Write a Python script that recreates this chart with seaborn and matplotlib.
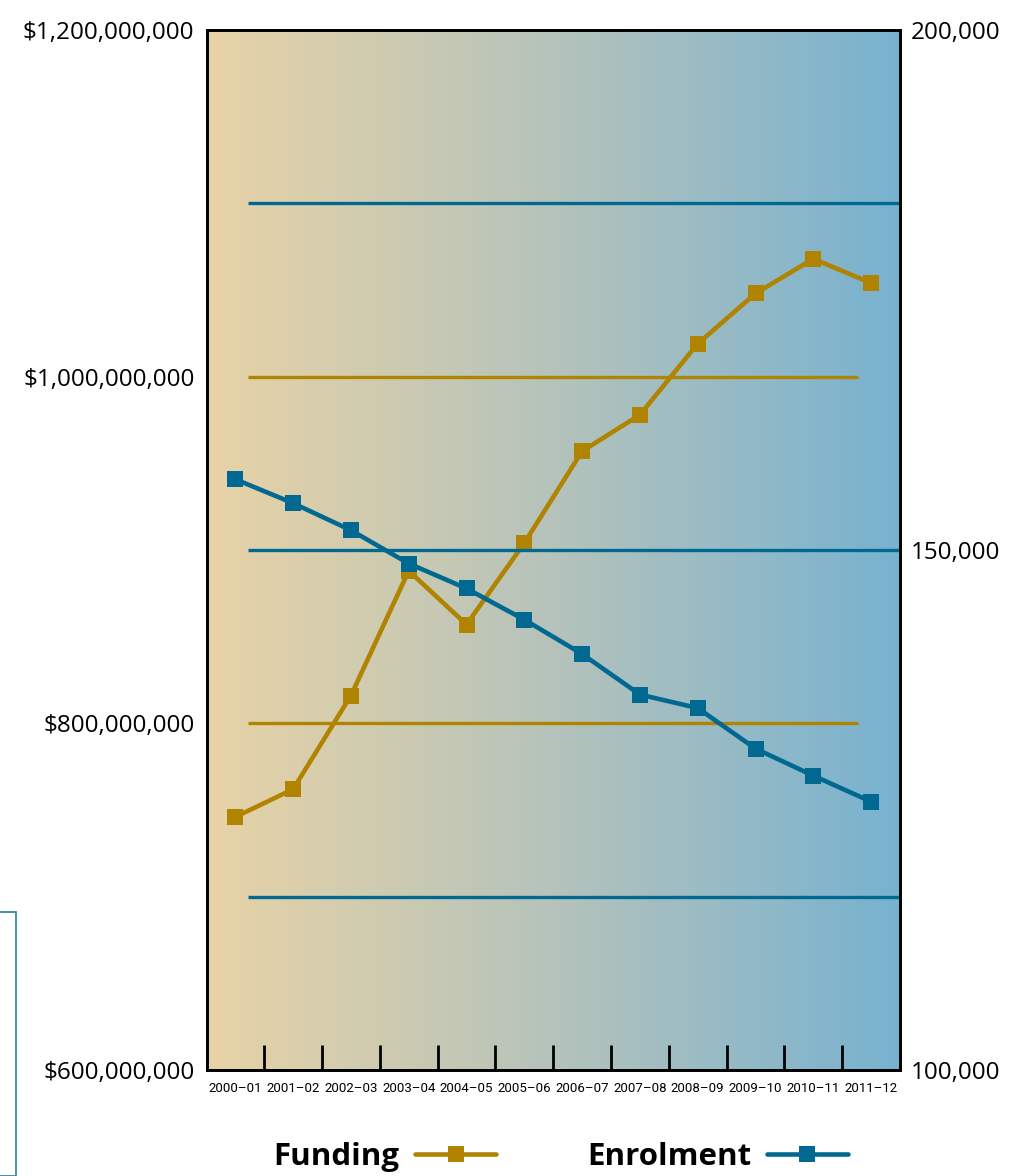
import numpy as np
import pandas as pd
import matplotlib
matplotlib.use("Agg")
import matplotlib.pyplot as plt
import seaborn as sns
from matplotlib.lines import Line2D
from matplotlib.patches import Rectangle
from matplotlib.colors import LinearSegmentedColormap

years = ["2000–01", "2001–02", "2002–03", "2003–04", "2004–05", "2005–06",
         "2006–07", "2007–08", "2008–09", "2009–10", "2010–11", "2011–12"]
funding = [746e6, 762e6, 816e6, 888e6, 857e6, 904e6,
           957e6, 978e6, 1019e6, 1048e6, 1068e6, 1054e6]
enrolment = [156800, 154500, 151900, 148700, 146300, 143300,
             140000, 136100, 134800, 130900, 128300, 125800]
funding_ticks = [600e6, 800e6, 1000e6, 1200e6]
enrol_ticks = [100000, 150000, 200000]
funding_grid = [800e6, 1000e6]
enrol_grid = [116667, 150000, 183333]

GOLD = "#b08400"
BLUE = "#006891"

sns.set_theme(style="white")
plt.rcParams['font.family'] = ['Open Sans', 'DejaVu Sans']
plt.rcParams['text.color'] = 'black'
plt.rcParams['xtick.color'] = 'black'
plt.rcParams['ytick.color'] = 'black'
plt.rcParams['xtick.labelcolor'] = 'black'
plt.rcParams['ytick.labelcolor'] = 'black'

df = pd.DataFrame({"x": np.arange(len(years)), "funding": funding, "enrolment": enrolment})

fig = plt.figure(figsize=(10.29, 11.76), dpi=100)
ax = fig.add_axes([207/1029, 1-1070/1176, (900-207)/1029, (1070-30)/1176])
ax2 = ax.twinx()

XL = (-0.49, 11.5)

# gradient background
cmap = LinearSegmentedColormap.from_list("bg", ["#e8d3a6", "#b5c3bb", "#78b2d0"])
grad = np.linspace(0, 1, 256).reshape(1, -1)
ax.imshow(grad, cmap=cmap, aspect="auto", extent=[XL[0], XL[1], 600e6, 1200e6],
          zorder=0, interpolation="bicubic")

ax.hlines(funding_grid, 0.22, 10.78, color=GOLD, lw=2.4, zorder=1)
ax2.hlines(enrol_grid, 0.22, 11.5, color=BLUE, lw=2.4, zorder=1)

sns.lineplot(data=df, x="x", y="funding", ax=ax, color=GOLD, lw=3.3, marker="s",
             markersize=11, markeredgewidth=0, zorder=3)
sns.lineplot(data=df, x="x", y="enrolment", ax=ax2, color=BLUE, lw=3.3, marker="s",
             markersize=11, markeredgewidth=0, zorder=3)
ax.set_xlim(*XL)
ax2.set_xlim(*XL)
ax.set_ylim(600e6, 1200e6)
ax2.set_ylim(100000, 200000)
ax2.patch.set_visible(False)

ax.set_xlabel("")
ax.set_ylabel("")
ax2.set_ylabel("")

ax.set_yticks(funding_ticks)
ax.set_yticklabels([f"${v:,.0f}" for v in funding_ticks], fontsize=17.5)
ax2.set_yticks(enrol_ticks)
ax2.set_yticklabels([f"{v:,.0f}" for v in enrol_ticks], fontsize=17.5)
ax.tick_params(axis="y", length=0, pad=9)
ax2.tick_params(axis="y", length=0, pad=8)

ax.set_xticks(np.arange(len(years)))
ax.set_xticklabels(years, fontsize=9.5, family=['Roboto', 'Open Sans'])
ax.set_xticks(np.arange(len(years) - 1) + 0.5, minor=True)
ax.tick_params(axis="x", which="major", length=0, pad=9)
ax.tick_params(axis="x", which="minor", direction="in", length=18, width=2, color="black",
               bottom=True)
ax2.tick_params(axis="x", which="both", length=0)

for a in (ax, ax2):
    for s in a.spines.values():
        s.set_color("black")
        s.set_linewidth(2)
        s.set_visible(True)

handles = [Line2D([0], [0], color=GOLD, lw=3.3, marker="s", markersize=11, markeredgewidth=0),
           Line2D([0], [0], color=BLUE, lw=3.3, marker="s", markersize=11, markeredgewidth=0)]
fig.legend(handles, ["Funding", "Enrolment"], loc="center", bbox_to_anchor=(0.545, 1-1157/1176),
           ncol=2, frameon=False, markerfirst=False, handlelength=2.6, columnspacing=2.9,
           handletextpad=0.5, prop={"weight": "bold", "size": 22.5})

# stray panel at bottom-left
fig.patches.append(Rectangle((-0.02, 0), 0.02 + 16/1029, (1176-912)/1176, transform=fig.transFigure,
                             facecolor="white", edgecolor="#2a7fa3", lw=1.2, zorder=5))

fig.savefig("out.png", dpi=100)
